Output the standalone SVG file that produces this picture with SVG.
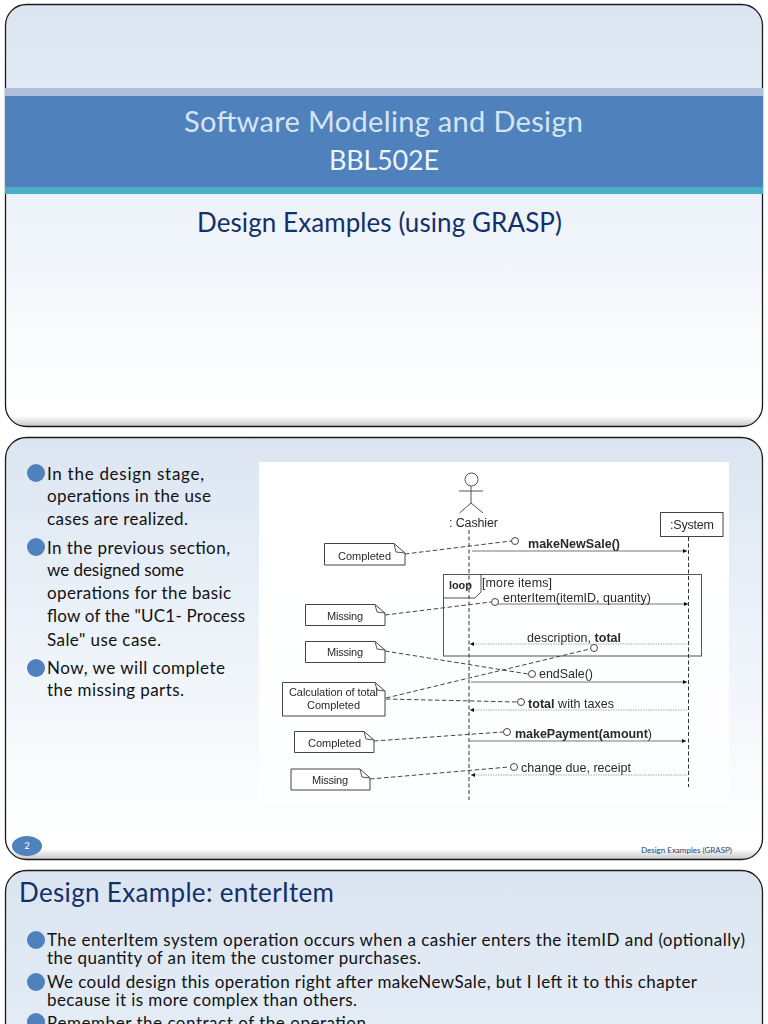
<svg xmlns="http://www.w3.org/2000/svg" width="768" height="1024" viewBox="0 0 768 1024">
<style>
.slide{stroke:#1a1a1a;stroke-width:1.3}
.cal{font-family:"Lato","Carlito","Open Sans",sans-serif}
.body{font-size:17px;fill:#111}
.head{font-size:26px;fill:#14306a}
.dot{fill:#4f81bd}
.u{font-family:"Liberation Sans",Arial,sans-serif;font-size:12.5px;fill:#2a2a2a}
.n{font-size:11px}
.b{font-weight:bold}
.box{fill:#fff;stroke:#444;stroke-width:1}
.ln{fill:none;stroke:#555;stroke-width:1}
.life{fill:none;stroke:#333;stroke-width:1;stroke-dasharray:4 2.5}
.dash{fill:none;stroke:#444;stroke-width:1;stroke-dasharray:4.5 2.5}
.circ{fill:#fff;stroke:#444;stroke-width:1}
.msg{stroke:#777;stroke-width:1;fill:none;marker-end:url(#ah)}
.ret{stroke:#aaa;stroke-width:1;stroke-dasharray:1.5 1;fill:none;marker-end:url(#ah)}
</style>
<defs>
<linearGradient id="g1" x1="0" y1="0" x2="0" y2="1">
<stop offset="0" stop-color="#dbe5f1"/><stop offset="0.45" stop-color="#ecf2f9"/><stop offset="0.9" stop-color="#fdfefe"/><stop offset="0.975" stop-color="#ffffff"/><stop offset="1" stop-color="#c4c6c8"/>
</linearGradient>
<linearGradient id="g3" x1="0" y1="0" x2="0" y2="1">
<stop offset="0" stop-color="#dbe5f1"/><stop offset="1" stop-color="#e6eef7"/>
</linearGradient>
<linearGradient id="img" x1="0" y1="0" x2="0" y2="1">
<stop offset="0" stop-color="#ffffff"/><stop offset="1" stop-color="#fdfeff"/>
</linearGradient>
<marker id="ah" markerWidth="5" markerHeight="5" refX="4" refY="2" orient="auto" markerUnits="userSpaceOnUse"><path d="M0,0L4,2L0,4Z" fill="#111"/></marker>
<filter id="soft" x="-2%" y="-2%" width="104%" height="104%"><feGaussianBlur stdDeviation="0.45"/></filter>
</defs>
<rect width="768" height="1024" fill="#ffffff"/>

<g id="slide1">
<rect class="slide" x="5.5" y="4.5" width="757" height="422" rx="21" fill="url(#g1)"/>
<rect x="5" y="88" width="758" height="8" fill="#b0c0dc"/>
<rect x="5" y="96" width="758" height="91" fill="#4f81bd"/>
<rect x="5" y="187" width="758" height="7" fill="#4bacc6"/>
<text class="cal" x="184" y="132" font-size="29" fill="#d5e5f5" textLength="399">Software Modeling and Design</text>
<text class="cal" x="329" y="170" font-size="27" fill="#eef5fb" textLength="110">BBL502E</text>
<text class="cal head" x="197" y="232" textLength="365">Design Examples (using GRASP)</text>
</g>

<g id="slide2">
<rect class="slide" x="5.5" y="437.5" width="757" height="422" rx="21" fill="url(#g1)"/>
<circle class="dot" cx="36" cy="473" r="9"/><circle class="dot" cx="36" cy="547" r="9"/><circle class="dot" cx="36" cy="668" r="9"/>
<g class="cal body">
<text x="47" y="480" textLength="157">In the design stage,</text>
<text x="47" y="502" textLength="164">operations in the use</text>
<text x="47" y="525" textLength="141">cases are realized.</text>
<text x="47" y="554" textLength="183">In the previous section,</text>
<text x="47" y="576" textLength="137">we designed some</text>
<text x="47" y="599" textLength="184">operations for the basic</text>
<text x="47" y="622" textLength="198">flow of the "UC1- Process</text>
<text x="47" y="646" textLength="114">Sale" use case.</text>
<text x="47" y="674" textLength="178">Now, we will complete</text>
<text x="47" y="696" textLength="137">the missing parts.</text>
</g>
<ellipse class="dot" cx="27" cy="846" rx="15" ry="10"/>
<text class="cal" x="27" y="849" font-size="9" fill="#fff" text-anchor="middle">2</text>
<text class="cal" x="641" y="853" font-size="8" fill="#1f3f78" textLength="91">Design Examples (GRASP)</text>
</g>

<rect x="259" y="462" width="470" height="342" fill="url(#img)"/>

<g id="sequence" filter="url(#soft)">
<g id="cashier">
<circle class="ln" cx="471.5" cy="479.5" r="6.5"/>
<path class="ln" d="M471,486V503M459,491H483M459.500,513L471,503L483,513"/>
<text class="u" x="449" y="527" textLength="49">: Cashier</text>
</g>
<g id="system">
<rect class="box" x="660.500" y="512.500" width="62.500" height="24"/>
<text class="u" x="670" y="529" textLength="44">:System</text>
</g>
<g id="loop-frame">
<rect class="ln" x="443.500" y="574.500" width="258" height="81.500"/>
<path class="ln" d="M443.500,598H475L481,592V574.500"/>
<text class="u n b" x="449" y="589" textLength="23">loop</text>
<text class="u" x="482" y="587" textLength="70">[more items]</text>
</g>
<g id="connectors">
<path class="life" d="M469,530V800"/>
<path class="life" d="M688.500,537V787"/>
<path class="msg" d="M472,551H687"/>
<path class="msg" d="M498,604H688"/>
<path class="ret" d="M687,644H470"/>
<path class="msg" d="M471,682H687"/>
<path class="ret" d="M687,710H470"/>
<path class="msg" d="M470,741H686"/>
<path class="ret" d="M687,775H471"/>
<path class="dash" d="M405,554L511,541"/>
<path class="dash" d="M385,615L491,602"/>
<path class="dash" d="M385,651L528,674"/>
<path class="dash" d="M386,698L590,649"/>
<path class="dash" d="M386,699L517,702"/>
<path class="dash" d="M374,741L503,732"/>
<path class="dash" d="M370,779L509,767"/>
<circle class="circ" cx="515" cy="541" r="3.500"/>
<circle class="circ" cx="495" cy="602" r="3.500"/>
<circle class="circ" cx="594" cy="648" r="3.500"/>
<circle class="circ" cx="532" cy="674" r="3.500"/>
<circle class="circ" cx="521" cy="702" r="3.500"/>
<circle class="circ" cx="507" cy="732" r="3.500"/>
<circle class="circ" cx="514" cy="767" r="3.500"/>
</g>
<g id="labels">
<text class="u b" x="528" y="548" textLength="92">makeNewSale()</text>
<text class="u" x="503" y="602" textLength="148">enterItem(itemID, quantity)</text>
<text class="u" x="527" y="642" textLength="94">description, <tspan class="b">total</tspan></text>
<text class="u" x="539" y="678" textLength="54">endSale()</text>
<text class="u" x="528" y="708" textLength="86"><tspan class="b">total</tspan> with taxes</text>
<text class="u" x="515" y="738" textLength="137"><tspan class="b">makePayment(amount</tspan>)</text>
<text class="u" x="521" y="772" textLength="110">change due, receipt</text>
</g>
<g id="note-completed-1">
<path class="box" d="M324.500,543.500H394L405,553V565H324.500Z"/><path class="ln" d="M394,543.500L396,552L405,553"/>
<text class="u n" x="338" y="560" textLength="53">Completed</text>
</g>
<g id="note-missing-1">
<path class="box" d="M305.500,604.500H375L385,613V625.500H305.500Z"/><path class="ln" d="M375,604.500L377,612L385,613"/>
<text class="u n" x="327" y="620" textLength="36">Missing</text>
</g>
<g id="note-missing-2">
<path class="box" d="M305.500,641.500H375L385,650V662.500H305.500Z"/><path class="ln" d="M375,641.500L377,649L385,650"/>
<text class="u n" x="327" y="656" textLength="36">Missing</text>
</g>
<g id="note-calculation">
<path class="box" d="M282.500,682.500H375L385,691V716H282.500Z"/><path class="ln" d="M375,682.500L377,690L385,691"/>
<text class="u n" x="289" y="696" textLength="89">Calculation of total</text>
<text class="u n" x="307" y="709" textLength="53">Completed</text>
</g>
<g id="note-completed-2">
<path class="box" d="M294.500,731.500H364L374,740V752.500H294.500Z"/><path class="ln" d="M364,731.500L366,739L374,740"/>
<text class="u n" x="308" y="747" textLength="53">Completed</text>
</g>
<g id="note-missing-3">
<path class="box" d="M291,769H360L370,778V790H291Z"/><path class="ln" d="M360,769L362,777L370,778"/>
<text class="u n" x="312" y="784" textLength="36">Missing</text>
</g>
</g>

<g id="slide3">
<rect class="slide" x="5.5" y="870.500" width="757" height="200" rx="21" fill="url(#g3)"/>
<text class="cal head" x="19" y="902" textLength="315">Design Example: enterItem</text>
<circle class="dot" cx="36" cy="940" r="9"/><circle class="dot" cx="36" cy="982" r="9"/><circle class="dot" cx="36" cy="1022" r="9"/>
<g class="cal body">
<text x="47" y="946" textLength="698">The enterItem system operation occurs when a cashier enters the itemID and (optionally)</text>
<text x="47" y="964" textLength="374">the quantity of an item the customer purchases.</text>
<text x="47" y="988" textLength="650">We could design this operation right after makeNewSale, but I left it to this chapter</text>
<text x="47" y="1006" textLength="310">because it is more complex than others.</text>
<text x="47" y="1029" textLength="319">Remember the contract of the operation</text>
</g>
</g>
</svg>
